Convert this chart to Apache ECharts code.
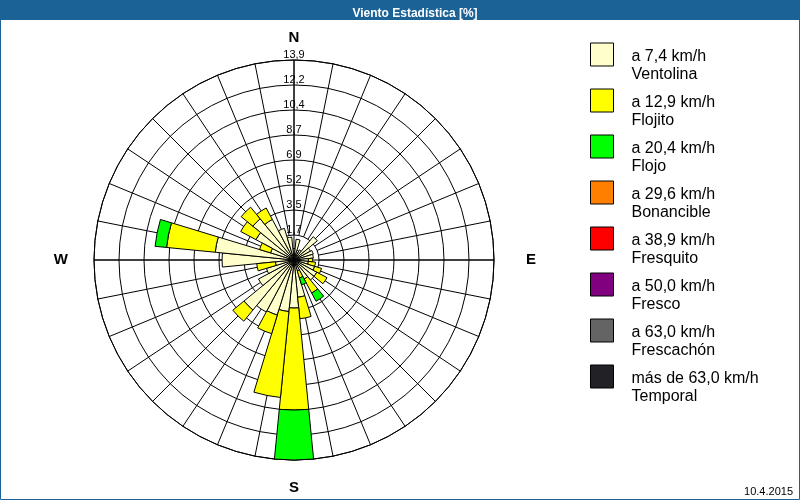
<!DOCTYPE html>
<html><head><meta charset="utf-8">
<script src="https://cdn.jsdelivr.net/npm/echarts@6/dist/echarts.min.js"></script>
<style>html,body{margin:0;padding:0;background:#fff}#c{width:800px;height:500px}</style>
</head><body><div id="c"></div>
<script>
// 32 wind directions, clockwise from North
const directions = ['N','NbE','NNE','NEbN','NE','NEbE','ENE','EbN','E','EbS','ESE','SEbE','SE','SEbS','SSE','SbE',
                    'S','SbW','SSW','SWbS','SW','SWbW','WSW','WbS','W','WbN','WNW','NWbW','NW','NWbN','NNW','NbW'];
// frequency [%] per speed class
const ventolina  = [0.8,1.45,0.7,0.8,2.1,1.3,1.4,1.35,1.0,1.0,1.5,1.8,1.8,1.5,0.8,2.6,
                    3.34,3.6,4.0,4.1,4.5,2.8,2.0,1.3,5.0,5.5,1.7,3.0,3.7,3.2,2.3,1.6];
const flojito    = [0,0,0,0,0,0,0,0,0.3,0.5,0.5,0.8,0,1.1,0.5,1.5,
                    7.09,6.0,1.35,0,1.0,0,0,1.3,0,3.4,0.8,1.2,1.05,0.9,0,0];
const flojo      = [0,0,0,0,0,0,0,0,0,0,0,0,0,0.65,0.5,0,
                    3.47,0,0,0,0,0,0,0,0,0.8,0,0,0,0,0,0];
const bonancible = new Array(32).fill(0);
const fresquito  = new Array(32).fill(0);
const fresco     = new Array(32).fill(0);
const frescachon = new Array(32).fill(0);
const temporal   = new Array(32).fill(0);

const classNames  = ['a 7,4 km/h\nVentolina','a 12,9 km/h\nFlojito','a 20,4 km/h\nFlojo','a 29,6 km/h\nBonancible',
                     'a 38,9 km/h\nFresquito','a 50,0 km/h\nFresco','a 63,0 km/h\nFrescachón','más de 63,0 km/h\nTemporal'];
const classColors = ['#ffffcc','#ffff00','#00ff00','#ff8000','#ff0000','#800080','#646464','#222226'];
const classData   = [ventolina, flojito, flojo, bonancible, fresquito, fresco, frescachon, temporal];

const radiusMax = 13.9;
const radiusStep = 1.7375;
const radiusTickLabels = ['', '1,7', '3,5', '5,2', '6,9', '8,7', '10,4', '12,2', '13,9'];
const compassLabels = {0:'{n|N}', 90:'{e|E}', 180:'{s|S}', 270:'{w|W}'};

const FONT = '"Liberation Sans", Arial, sans-serif';
const CX = 294, CY = 260, R = 200;

const chart = echarts.init(document.getElementById('c'), null, {renderer:'canvas'});

const series = classData.map((arr, k) => ({
  type: 'bar',
  name: classNames[k],
  coordinateSystem: 'polar',
  polarIndex: 0,
  stack: 'wind',
  barCategoryGap: '0%',
  data: arr.map(v => v > 0 ? v : '-'),
  itemStyle: {color: classColors[k], borderColor: '#000', borderWidth: 1},
  emphasis: {disabled: true},
  silent: true,
  z: 3
}));

chart.setOption({
  animation: false,
  backgroundColor: '#ffffff',
  title: {
    text: 'Viento Estadística [%]',
    left: 410, top: 3, textAlign: 'center',
    textStyle: {color: '#ffffff', fontSize: 12, fontWeight: 'bold', fontFamily: FONT}
  },
  graphic: [
    {type: 'rect', z: -1, shape: {x: 0, y: 0, width: 800, height: 20}, style: {fill: '#1b6296'}},
    {type: 'rect', z: 10, shape: {x: 0.5, y: 0.5, width: 799, height: 499}, style: {fill: 'none', stroke: '#1b6296', lineWidth: 1}},
    {type: 'text', z: 10, style: {text: '10.4.2015', x: 793, y: 492, align: 'right', verticalAlign: 'middle',
      font: '11px ' + FONT, fill: '#000'}}
  ],
  polar: [
    {center: [CX, CY], radius: R},
    {center: [CX, CY], radius: [25, R]},
    {center: [CX, CY], radius: R}
  ],
  angleAxis: [
    {polarIndex: 0, type: 'category', data: directions, startAngle: 90 + 5.625, boundaryGap: true,
     axisLine: {show: false}, axisTick: {show: false}, axisLabel: {show: false}, splitLine: {show: false}},
    {polarIndex: 1, type: 'value', min: 0, max: 360, interval: 11.25, startAngle: 90,
     axisLine: {show: false}, axisTick: {show: false}, axisLabel: {show: false},
     splitLine: {show: true, lineStyle: {color: '#000', width: 1}}},
    {polarIndex: 2, type: 'value', min: 0, max: 360, interval: 90, startAngle: 90,
     axisLine: {show: true, lineStyle: {color: '#000', width: 1}}, axisTick: {show: false},
     axisLabel: {show: true, margin: 15, formatter: v => compassLabels[v] || '',
       rich: {
         n: {fontSize: 15, fontWeight: 'bold', color: '#000', fontFamily: FONT},
         e: {fontSize: 15, fontWeight: 'bold', color: '#000', fontFamily: FONT, padding: [0, 0, 0, 17]},
         s: {fontSize: 15, fontWeight: 'bold', color: '#000', fontFamily: FONT, padding: [5, 0, 0, 0]},
         w: {fontSize: 15, fontWeight: 'bold', color: '#000', fontFamily: FONT, padding: [0, 11, 0, 0]}
       }},
     splitLine: {show: true, lineStyle: {color: '#000', width: 1}}}
  ],
  radiusAxis: [
    {polarIndex: 0, type: 'value', min: 0, max: radiusMax, show: false},
    {polarIndex: 1, type: 'value', min: 0, max: 1, show: false},
    {polarIndex: 2, type: 'value', min: 0, max: radiusMax, interval: radiusStep,
     axisLine: {show: false}, axisTick: {show: false},
     axisLabel: {show: true, margin: 0, align: 'center', verticalAlign: 'bottom',
       fontSize: 11, fontFamily: FONT, color: '#000',
       formatter: (v) => radiusTickLabels[Math.round(v / radiusStep)] || ''},
     splitLine: {show: true, lineStyle: {color: '#000', width: 1}}}
  ],
  legend: {
    orient: 'vertical', left: 590, top: 28.5, padding: 0,
    itemWidth: 23, itemHeight: 23, itemGap: -8, icon: 'rect',
    selectedMode: false,
    data: classNames,
    itemStyle: {borderColor: '#000', borderWidth: 1},
    formatter: name => {
      const parts = name.split('\n');
      return '{sp| }\n{t|' + parts[0] + '}\n{t|' + parts[1] + '}';
    },
    textStyle: {fontSize: 16, fontFamily: FONT, color: '#000', padding: [0, 0, 0, 13],
      rich: {
        sp: {fontSize: 16, lineHeight: 22, fontFamily: FONT, color: '#000'},
        t: {fontSize: 16, lineHeight: 18, fontFamily: FONT, color: '#000'}
      }}
  },
  series: series
});
</script></body></html>
